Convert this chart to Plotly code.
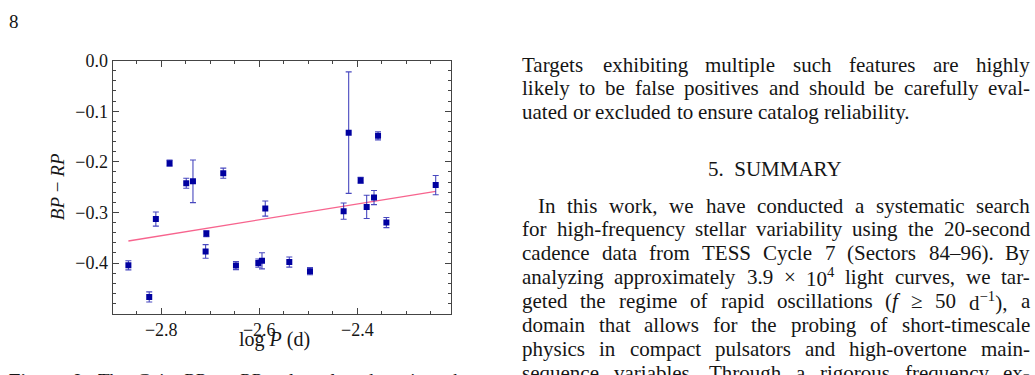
import re
import plotly.graph_objects as go
import numpy as np

# ---- data ----
log_p = [-2.867, -2.8245, -2.811, -2.783, -2.749, -2.7353, -2.708, -2.7095,
         -2.6735, -2.6476, -2.602, -2.5945, -2.5878, -2.5388, -2.4966,
         -2.428, -2.4177, -2.3578, -2.3933, -2.381, -2.366, -2.3408, -2.2402]
bp_rp = [-0.4044, -0.467, -0.313, -0.2026, -0.2423, -0.2385, -0.342, -0.377,
         -0.2224, -0.405, -0.400, -0.3955, -0.2923, -0.398, -0.416,
         -0.2974, -0.1423, -0.1487, -0.2365, -0.289, -0.2705, -0.320, -0.246]
bp_rp_err = [0.009, 0.01, 0.014, 0.006, 0.01, 0.042, 0.006, 0.0135,
             0.01, 0.008, 0.008, 0.016, 0.015, 0.01, 0.007,
             0.016, 0.12, 0.008, 0.006, 0.023, 0.014, 0.01, 0.019]
fit_slope = 0.1565
fit_intercept = 0.0923

x_ticks = [-2.8, -2.6, -2.4]
x_tick_text = ["\u22122.8", "\u22122.6", "\u22122.4"]
y_ticks = [0.0, -0.1, -0.2, -0.3, -0.4]
y_tick_text = ["0.0", "\u22120.1", "\u22120.2", "\u22120.3", "\u22120.4"]

para1 = [
    "Targets exhibiting multiple such features are highly",
    "likely to be false positives and should be carefully eval-",
    "uated or excluded to ensure catalog reliability.",
]
heading = "5.  SUMMARY"
para2 = [
    "In this work, we have conducted a systematic search",
    "for high-frequency stellar variability using the 20-second",
    "cadence data from TESS Cycle 7 (Sectors 84\u201396). By",
    "analyzing approximately 3.9 \u00d7 10<sup>4</sup> light curves, we tar-",
    "geted the regime of rapid oscillations (<i>f</i> \u2265 50 d<sup>\u22121</sup>), a",
    "domain that allows for the probing of short-timescale",
    "physics in compact pulsators and high-overtone main-",
    "sequence variables. Through a rigorous frequency ex-",
]
caption = "<b>Figure</b> <b>9.</b> The Gaia <i>BP</i> \u2212 <i>RP</i> color plotted against the"

FONT = "Liberation Serif"
W, H = 1035, 375
AX = "#444444"
INK = "#151515"

# Times / Liberation Serif advance widths (per 1000 em)
W_ROMAN = dict(zip("abcdefghijklmnopqrstuvwxyz",
                   [444, 500, 444, 500, 444, 333, 500, 500, 278, 278, 500, 278, 778,
                    500, 500, 500, 500, 333, 389, 278, 500, 500, 722, 500, 500, 444]))
W_ROMAN.update(dict(zip("ABCDEFGHIJKLMNOPQRSTUVWXYZ",
                        [722, 667, 667, 722, 611, 556, 722, 722, 333, 389, 722, 611, 889,
                         722, 722, 556, 722, 667, 556, 611, 722, 722, 944, 722, 722, 611])))
W_ROMAN.update({c: 500 for c in "0123456789"})
W_ROMAN.update({" ": 250, ".": 250, ",": 250, "-": 333, "(": 333, ")": 333,
                "\u2013": 500, "\u00d7": 564, "\u2265": 549, "\u2212": 564, ":": 278})
W_ITAL = {"f": 278, "P": 611, "B": 611, "R": 611}
W_BOLD = {"F": 611, "i": 278, "g": 500, "u": 556, "r": 444, "e": 444, "9": 500, ".": 250}


def text_width(html, size):
    total, sup, ital, bold = 0.0, False, False, False
    for part in re.split(r"(<[^>]+>)", html):
        if part.startswith("<"):
            closing = part.startswith("</")
            tag = part.strip("<>/").lower()
            if tag == "sup":
                sup = not closing
            elif tag == "i":
                ital = not closing
            elif tag == "b":
                bold = not closing
            continue
        for ch in part:
            if ital and ch in W_ITAL:
                w = W_ITAL[ch]
            elif bold and ch in W_BOLD:
                w = W_BOLD[ch]
            else:
                w = W_ROMAN.get(ch, 500)
            total += w * (0.7 if sup else 1.0)
    return total * size / 1000.0


fig = go.Figure()

fx = np.array([min(log_p), max(log_p)])
fig.add_trace(go.Scatter(x=fx, y=fit_slope * fx + fit_intercept, mode="lines",
                         line=dict(color="#f7648e", width=1.3),
                         hoverinfo="skip", showlegend=False))

fig.add_trace(go.Scatter(
    x=log_p, y=bp_rp, mode="markers",
    marker=dict(symbol="square", size=6, color="#0000a0"),
    error_y=dict(type="data", array=bp_rp_err, visible=True,
                 color="rgba(40,40,180,0.85)", thickness=1.1, width=3),
    showlegend=False))

x0, x1 = 112.7, 451.0
y0, y1 = 52.0, 312.0
axis_common = dict(showgrid=False, zeroline=False, showline=True, linecolor=AX,
                   linewidth=1.3, mirror="ticks", ticks="inside", ticklen=6,
                   tickwidth=1, tickcolor=AX,
                   tickfont=dict(family=FONT, size=18, color=INK))
fig.update_xaxes(range=[-2.899, -2.209], domain=[x0 / W, x1 / W],
                 tickvals=x_ticks, ticktext=x_tick_text,
                 minor=dict(ticks="inside", ticklen=3, dtick=0.05, tick0=-2.8,
                            tickcolor=AX, tickwidth=1),
                 **axis_common)
fig.update_yaxes(range=[-0.5, 0.0], domain=[1 - y1 / H, 1 - y0 / H],
                 tickvals=y_ticks, ticktext=y_tick_text,
                 minor=dict(ticks="inside", ticklen=3, dtick=0.02, tick0=0,
                            tickcolor=AX, tickwidth=1),
                 **axis_common)

ann = []


def txt(x, y, s, size=20, xanchor="left", angle=0):
    ann.append(dict(x=x / W, y=1 - y / H, xref="paper", yref="paper", text=s,
                    showarrow=False, xanchor=xanchor, yanchor="middle",
                    textangle=angle, borderpad=0,
                    font=dict(family=FONT, size=size, color=INK)))


def line_out(left, right, y, line, size, justify=True):
    words = line.split()
    widths = [text_width(w, size) for w in words]
    if justify and len(words) > 1:
        gap = (right - left - sum(widths)) / (len(words) - 1)
    else:
        gap = W_ROMAN[" "] * size / 1000.0
    x = left
    for w, wd in zip(words, widths):
        txt(x, y, w, size=size)
        x += wd + gap


# axis titles
txt(274, 339, "log <i>P</i> (d)", size=20, xanchor="center")
txt(57, 182, "<i>BP</i> \u2212 <i>RP</i>", size=19, xanchor="center", angle=-90)
# page number
txt(8, 12, "8", size=19)

# right column text (justified)
TS = 21
L, R = 521, 1029
LH = 24.5
for i, line in enumerate(para1):
    line_out(L, R, 56 + LH * i, line, TS, justify=(i < len(para1) - 1))
txt((L + R) / 2, 163, heading, size=TS, xanchor="center")
for i, line in enumerate(para2):
    line_out(L + (16 if i == 0 else 0), R, 201 + LH * i, line, TS)

# caption (cut off at the bottom edge)
line_out(8, 470, 381, caption, 19)

fig.update_layout(width=W, height=H, margin=dict(l=0, r=0, t=0, b=0),
                  paper_bgcolor="white", plot_bgcolor="white",
                  annotations=ann)

fig.write_html("out.html")
